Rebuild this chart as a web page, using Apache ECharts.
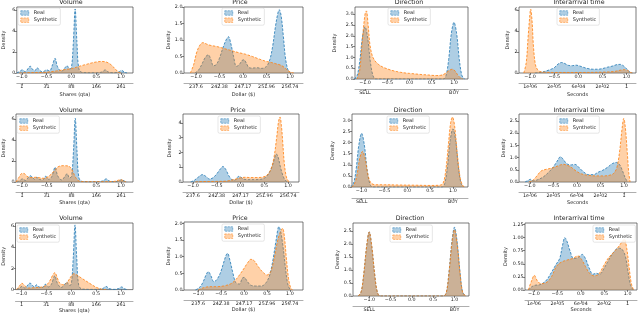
<!DOCTYPE html>
<html><head><meta charset="utf-8">
<script src="https://cdn.jsdelivr.net/npm/echarts@6/dist/echarts.min.js"></script>
<style>html,body{margin:0;padding:0;background:#fff}#c{width:640px;height:314px}</style>
</head><body><div id="c"></div>
<script>
// ---- tick labels of the secondary axes ----
const volumeTicks = ['1','31','88','166','261'];
const priceTicks = ['237.6','242.38','247.17','251.96','256.74'];
const directionTicks = ['SELL','','','','BUY'];
const timeTicks = ['1e-06','2e-05','6e-04','2e-02','1'];

// ---- row 1 ----
const volReal1 = [[-1.1,0],[-1.04,0.15],[-0.99,0.3],[-0.93,0.12],[-0.87,0.45],[-0.83,0.65],[-0.79,0.4],[-0.74,0.2],[-0.69,0.5],[-0.64,0.25],[-0.58,0.1],[-0.5,0.3],[-0.44,0.2],[-0.38,0.8],[-0.33,1.4],[-0.28,0.6],[-0.2,0.15],[-0.13,0.5],[-0.09,0.7],[-0.04,0.4],[0.0,0.5],[0.04,3.0],[0.075,6.1],[0.11,3.0],[0.15,0.4],[0.22,0.05],[0.5,0.02],[0.62,0.1],[0.68,0.3],[0.74,0.1],[0.85,0.02],[0.95,0.1],[1.01,0.25],[1.07,0.08],[1.12,0]];
const volSynth1 = [[-1.05,0],[-0.9,0.03],[-0.6,0.05],[-0.45,0.1],[-0.3,0.2],[-0.1,0.35],[0.0,0.42],[0.1,0.55],[0.2,0.7],[0.3,0.82],[0.4,0.95],[0.5,1.05],[0.6,1.1],[0.7,1.05],[0.78,0.85],[0.85,0.55],[0.9,0.3],[0.95,0.08],[1.0,0]];
const priceReal1 = [[-1.02,0],[-0.95,0.08],[-0.88,0.25],[-0.8,0.48],[-0.74,0.55],[-0.68,0.4],[-0.63,0.22],[-0.57,0.25],[-0.5,0.45],[-0.43,0.75],[-0.36,1.0],[-0.31,1.1],[-0.26,0.9],[-0.2,0.5],[-0.14,0.2],[-0.08,0.25],[-0.02,0.38],[0.02,0.4],[0.07,0.3],[0.13,0.16],[0.2,0.15],[0.3,0.16],[0.4,0.14],[0.5,0.2],[0.57,0.4],[0.63,0.8],[0.69,1.4],[0.74,1.8],[0.77,1.92],[0.81,1.75],[0.86,1.1],[0.9,0.5],[0.95,0.12],[1.0,0]];
const priceSynth1 = [[-1.12,0],[-1.05,0.25],[-0.98,0.65],[-0.9,0.88],[-0.85,0.92],[-0.78,0.88],[-0.7,0.84],[-0.55,0.8],[-0.4,0.74],[-0.25,0.68],[-0.1,0.62],[0.05,0.57],[0.2,0.5],[0.35,0.42],[0.5,0.35],[0.6,0.32],[0.7,0.28],[0.8,0.24],[0.88,0.17],[0.95,0.08],[1.02,0.02],[1.08,0]];
const dirReal1 = [[-1.25,0],[-1.18,0.15],[-1.12,0.8],[-1.06,1.9],[-1.0,2.42],[-0.94,1.9],[-0.88,0.8],[-0.82,0.15],[-0.76,0],[0.0,0],[0.76,0],[0.82,0.15],[0.88,0.9],[0.94,2.1],[1.0,2.62],[1.06,2.1],[1.12,0.9],[1.18,0.15],[1.24,0]];
const dirSynth1 = [[-1.18,0],[-1.12,0.4],[-1.06,1.8],[-1.0,3.0],[-0.97,3.15],[-0.93,2.5],[-0.89,1.6],[-0.84,1.1],[-0.78,0.85],[-0.7,0.68],[-0.6,0.55],[-0.5,0.47],[-0.4,0.4],[-0.3,0.35],[-0.2,0.31],[-0.1,0.28],[0.0,0.26],[0.1,0.24],[0.2,0.22],[0.3,0.2],[0.4,0.19],[0.5,0.17],[0.6,0.16],[0.7,0.17],[0.8,0.25],[0.88,0.38],[0.96,0.45],[1.02,0.38],[1.08,0.2],[1.14,0.06],[1.2,0]];
const timeReal1 = [[-0.9,0],[-0.8,0.05],[-0.7,0.15],[-0.6,0.3],[-0.5,0.5],[-0.42,0.85],[-0.35,1.0],[-0.28,0.9],[-0.2,0.72],[-0.12,0.7],[-0.05,0.75],[0.02,0.68],[0.1,0.55],[0.2,0.42],[0.3,0.36],[0.4,0.36],[0.5,0.42],[0.6,0.55],[0.7,0.65],[0.8,0.8],[0.87,0.82],[0.93,0.7],[0.99,0.45],[1.04,0.2],[1.08,0.05],[1.12,0]];
const timeSynth1 = [[-1.13,0],[-1.08,1.0],[-1.04,3.5],[-1.0,5.8],[-0.99,6.1],[-0.96,5.0],[-0.93,2.5],[-0.89,0.8],[-0.85,0.35],[-0.8,0.15],[-0.7,0.08],[-0.5,0.05],[0.0,0.05],[0.5,0.08],[0.75,0.15],[0.88,0.28],[0.95,0.32],[1.02,0.25],[1.08,0.06],[1.12,0]];

// ---- row 2 ----
const volReal2 = [[-1.1,0],[-1.04,0.15],[-0.99,0.3],[-0.93,0.15],[-0.87,0.45],[-0.83,0.6],[-0.78,0.4],[-0.74,0.25],[-0.7,0.45],[-0.65,0.25],[-0.58,0.2],[-0.52,0.55],[-0.46,0.25],[-0.4,0.5],[-0.33,1.4],[-0.28,0.6],[-0.2,0.2],[-0.13,0.55],[-0.09,0.8],[-0.04,0.4],[0.0,0.5],[0.04,3.0],[0.075,6.1],[0.11,3.0],[0.15,0.4],[0.22,0.05],[0.5,0.02],[0.63,0.1],[0.7,0.3],[0.76,0.1],[0.86,0.02],[0.95,0.1],[1.01,0.22],[1.07,0.08],[1.12,0]];
const volSynth2 = [[-1.12,0],[-1.06,0.45],[-1.0,0.82],[-0.96,0.82],[-0.9,0.55],[-0.82,0.42],[-0.72,0.45],[-0.62,0.38],[-0.55,0.35],[-0.46,0.55],[-0.38,0.9],[-0.3,1.35],[-0.24,1.52],[-0.15,1.56],[-0.06,1.52],[0.0,1.25],[0.05,0.75],[0.1,0.3],[0.16,0.08],[0.25,0.03],[0.6,0.03],[0.85,0.05],[0.93,0.15],[0.99,0.22],[1.05,0.12],[1.1,0]];
const priceReal2 = [[-1.05,0],[-0.97,0.12],[-0.88,0.35],[-0.8,0.5],[-0.73,0.38],[-0.65,0.2],[-0.58,0.28],[-0.5,0.55],[-0.42,0.9],[-0.37,1.05],[-0.31,0.85],[-0.25,0.45],[-0.19,0.18],[-0.12,0.12],[-0.04,0.38],[0.0,0.35],[0.06,0.2],[0.15,0.16],[0.3,0.16],[0.42,0.18],[0.52,0.3],[0.6,0.6],[0.67,1.1],[0.72,1.65],[0.75,1.9],[0.79,1.7],[0.84,1.0],[0.89,0.45],[0.94,0.12],[1.0,0]];
const priceSynth2 = [[-0.95,0],[-0.8,0.03],[-0.5,0.04],[-0.3,0.06],[-0.2,0.12],[-0.1,0.2],[0.0,0.28],[0.1,0.32],[0.2,0.3],[0.3,0.3],[0.45,0.32],[0.55,0.45],[0.63,0.8],[0.7,1.6],[0.76,3.0],[0.8,4.1],[0.83,4.4],[0.86,3.8],[0.89,2.6],[0.92,1.3],[0.96,0.4],[1.0,0.08],[1.04,0]];
const dirReal2 = [[-1.25,0],[-1.18,0.15],[-1.12,0.8],[-1.06,1.9],[-1.0,2.42],[-0.94,1.9],[-0.88,0.8],[-0.82,0.15],[-0.76,0],[0.0,0],[0.76,0],[0.82,0.15],[0.88,0.9],[0.94,2.1],[1.0,2.62],[1.06,2.1],[1.12,0.9],[1.18,0.15],[1.24,0]];
const dirSynth2 = [[-1.22,0],[-1.16,0.12],[-1.1,0.55],[-1.04,1.3],[-0.98,1.6],[-0.92,1.25],[-0.86,0.55],[-0.8,0.2],[-0.7,0.1],[-0.5,0.1],[-0.2,0.09],[0.2,0.08],[0.5,0.07],[0.7,0.08],[0.78,0.15],[0.84,0.7],[0.9,1.9],[0.95,2.9],[0.99,3.15],[1.04,2.7],[1.1,1.4],[1.16,0.4],[1.22,0.05],[1.27,0]];
const timeReal2 = [[-1.1,0],[-1.04,0.06],[-0.99,0.11],[-0.93,0.05],[-0.85,0.08],[-0.72,0.2],[-0.6,0.4],[-0.5,0.62],[-0.42,0.85],[-0.35,1.03],[-0.28,0.9],[-0.22,0.75],[-0.12,0.7],[-0.04,0.72],[0.05,0.58],[0.15,0.4],[0.25,0.3],[0.35,0.3],[0.45,0.4],[0.55,0.48],[0.65,0.6],[0.75,0.75],[0.84,0.8],[0.91,0.7],[0.97,0.45],[1.03,0.15],[1.08,0]];
const timeSynth2 = [[-1.02,0],[-0.93,0.08],[-0.85,0.25],[-0.76,0.45],[-0.65,0.52],[-0.55,0.56],[-0.45,0.62],[-0.35,0.7],[-0.28,0.72],[-0.2,0.68],[-0.12,0.6],[-0.02,0.45],[0.1,0.33],[0.25,0.27],[0.4,0.25],[0.55,0.25],[0.68,0.27],[0.78,0.35],[0.85,0.6],[0.91,1.3],[0.96,2.2],[0.995,2.6],[1.03,2.2],[1.07,1.2],[1.1,0.4],[1.13,0]];

// ---- row 3 ----
const volReal3 = [[-1.1,0],[-1.04,0.15],[-0.99,0.3],[-0.93,0.15],[-0.87,0.45],[-0.83,0.62],[-0.78,0.4],[-0.74,0.25],[-0.7,0.45],[-0.65,0.25],[-0.58,0.2],[-0.52,0.5],[-0.46,0.25],[-0.4,0.5],[-0.33,1.3],[-0.28,0.6],[-0.2,0.2],[-0.13,0.5],[-0.09,0.7],[-0.04,0.4],[0.0,0.5],[0.04,3.0],[0.075,6.1],[0.11,3.0],[0.15,0.4],[0.22,0.05],[0.5,0.02],[0.63,0.1],[0.7,0.3],[0.76,0.1],[0.86,0.02],[0.95,0.1],[1.01,0.25],[1.07,0.08],[1.12,0]];
const volSynth3 = [[-1.1,0],[-1.04,0.35],[-0.99,0.6],[-0.93,0.35],[-0.86,0.15],[-0.75,0.18],[-0.62,0.22],[-0.52,0.35],[-0.44,0.75],[-0.38,1.3],[-0.33,1.6],[-0.28,1.1],[-0.23,0.6],[-0.15,0.45],[-0.08,0.7],[-0.01,1.2],[0.05,1.5],[0.12,1.35],[0.2,1.1],[0.3,0.8],[0.4,0.5],[0.5,0.22],[0.6,0.05],[0.7,0]];
const priceReal3 = [[-1.06,0],[-0.97,0.08],[-0.9,0.22],[-0.83,0.45],[-0.78,0.55],[-0.72,0.42],[-0.66,0.25],[-0.6,0.3],[-0.52,0.5],[-0.45,0.8],[-0.39,1.05],[-0.36,1.1],[-0.31,0.9],[-0.25,0.55],[-0.18,0.22],[-0.1,0.18],[-0.04,0.35],[0.0,0.38],[0.06,0.28],[0.14,0.15],[0.25,0.12],[0.38,0.12],[0.48,0.22],[0.56,0.45],[0.63,0.9],[0.7,1.5],[0.76,1.9],[0.8,1.75],[0.85,1.3],[0.9,0.7],[0.95,0.2],[1.0,0.02],[1.03,0]];
const priceSynth3 = [[-1.0,0],[-0.9,0.06],[-0.75,0.1],[-0.6,0.1],[-0.45,0.12],[-0.3,0.18],[-0.2,0.28],[-0.1,0.45],[0.0,0.65],[0.08,0.82],[0.15,0.92],[0.22,0.88],[0.3,0.72],[0.4,0.55],[0.5,0.45],[0.58,0.55],[0.65,0.9],[0.72,1.4],[0.78,1.7],[0.84,1.85],[0.88,1.6],[0.92,1.0],[0.97,0.35],[1.02,0.05],[1.06,0]];
const dirReal3 = [[-1.26,0],[-1.19,0.15],[-1.13,0.8],[-1.06,1.9],[-1.0,2.46],[-0.94,1.9],[-0.87,0.8],[-0.81,0.15],[-0.74,0],[0.0,0],[0.74,0],[0.81,0.15],[0.87,0.9],[0.94,2.1],[1.0,2.64],[1.06,2.1],[1.13,0.9],[1.19,0.15],[1.26,0]];
const dirSynth3 = [[-1.26,0],[-1.19,0.16],[-1.13,0.82],[-1.06,1.92],[-1.0,2.46],[-0.94,1.92],[-0.87,0.82],[-0.81,0.16],[-0.74,0],[0.0,0],[0.74,0],[0.81,0.15],[0.87,0.88],[0.94,2.02],[1.0,2.54],[1.06,2.02],[1.13,0.88],[1.19,0.15],[1.26,0]];
const timeReal3 = [[-1.12,0],[-1.05,0.06],[-0.98,0.09],[-0.88,0.1],[-0.75,0.17],[-0.63,0.33],[-0.52,0.5],[-0.45,0.6],[-0.39,0.85],[-0.34,1.0],[-0.29,0.92],[-0.23,0.75],[-0.15,0.6],[-0.06,0.62],[0.03,0.68],[0.1,0.6],[0.18,0.42],[0.26,0.3],[0.33,0.32],[0.4,0.3],[0.5,0.42],[0.6,0.58],[0.7,0.72],[0.8,0.8],[0.88,0.78],[0.95,0.65],[1.0,0.4],[1.06,0.1],[1.12,0]];
const timeSynth3 = [[-1.12,0],[-1.06,0.15],[-0.99,0.28],[-0.93,0.18],[-0.85,0.12],[-0.72,0.15],[-0.62,0.26],[-0.52,0.45],[-0.42,0.53],[-0.3,0.57],[-0.18,0.6],[-0.06,0.65],[0.02,0.58],[0.1,0.45],[0.18,0.33],[0.28,0.27],[0.38,0.3],[0.48,0.45],[0.58,0.6],[0.7,0.72],[0.8,0.82],[0.88,0.92],[0.93,0.97],[0.98,0.8],[1.03,0.45],[1.08,0.12],[1.13,0]];

// ---- panel layout (pixels) ----
const panels = [
 {title:'Volume', tx:71, ty:3, g:[16,7,133,73], xr:[-1.1,1.24], ymax:6.29, yt:[0,2,4,6], yd:0, sec:volumeTicks, secName:'Shares (qta)', off:10.5, sng:8.3, leg:[18,8], dg:10.8, real:volReal1, syn:volSynth1},
 {title:'Price', tx:240, ty:3, g:[184,7,303,73], xr:[-1.255,1.277], ymax:2.0, yt:[0,0.5,1,1.5,2], yd:1, sec:priceTicks, secName:'Dollar ($)', off:10.5, sng:8.3, leg:[222,8], dg:11.5, real:priceReal1, syn:priceSynth1},
 {title:'Direction', tx:409, ty:3, g:[355,7,468,79], xr:[-1.225,1.315], ymax:3.33, yt:[0,0.5,1,1.5,2,2.5,3], yd:1, sec:directionTicks, secName:'', off:10, sng:8, leg:[388,8], dg:17.5, real:dirReal1, syn:dirSynth1},
 {title:'Interarrival time', tx:579, ty:3, g:[519,7,636,73], xr:[-1.23,1.195], ymax:6.29, yt:[0,2,4,6], yd:0, sec:timeTicks, secName:'Seconds', off:10.5, sng:8.3, leg:[557,8], dg:7.5, real:timeReal1, syn:timeSynth1},
 {title:'Volume', tx:71, ty:111, g:[15,114,133,182], xr:[-1.12,1.24], ymax:6.5, yt:[0,2,4,6], yd:0, sec:volumeTicks, secName:'Shares (qta)', off:10.3, sng:7.8, leg:[17,116], dg:10, real:volReal2, syn:volSynth2},
 {title:'Price', tx:238, ty:111, g:[183,114,299,182], xr:[-1.21,1.23], ymax:4.6, yt:[0,1,2,3,4], yd:0, sec:priceTicks, secName:'Dollar ($)', off:10.3, sng:7.8, leg:[218,116], dg:10.5, real:priceReal2, syn:priceSynth2},
 {title:'Direction', tx:408, ty:111, g:[352,114,468,187], xr:[-1.21,1.33], ymax:3.29, yt:[0,0.5,1,1.5,2,2.5,3], yd:1, sec:directionTicks, secName:'', off:11.5, sng:8, leg:[387,116], dg:16.5, real:dirReal2, syn:dirSynth2},
 {title:'Interarrival time', tx:579, ty:111, g:[519,114,636,182], xr:[-1.23,1.255], ymax:2.78, yt:[0,0.5,1,1.5,2,2.5], yd:1, sec:timeTicks, secName:'Seconds', off:10.3, sng:7.8, leg:[557,116], dg:8.5, real:timeReal2, syn:timeSynth2},
 {title:'Volume', tx:71, ty:219, g:[15,223,133,290], xr:[-1.12,1.24], ymax:6.28, yt:[0,2,4,6], yd:0, sec:volumeTicks, secName:'Shares (qta)', off:11.7, sng:6.5, leg:[17,225], dg:9.5, real:volReal3, syn:volSynth3},
 {title:'Price', tx:240, ty:219, g:[184,222,303,290], xr:[-1.31,1.286], ymax:2.04, yt:[0,0.5,1,1.5,2], yd:1, sec:priceTicks, secName:'Dollar ($)', off:10.7, sng:6.5, leg:[222,224], dg:9.5, real:priceReal3, syn:priceSynth3},
 {title:'Direction', tx:410, ty:219, g:[353,223,469,296], xr:[-1.38,1.34], ymax:2.8, yt:[0,0.5,1,1.5,2,2.5], yd:1, sec:directionTicks, secName:'', off:10, sng:8, leg:[390,225], dg:9.5, real:dirReal3, syn:dirSynth3},
 {title:'Interarrival time', tx:579, ty:219, g:[525,223,637,290], xr:[-1.19,1.2], ymax:1.28, yt:[0,0.25,0.5,0.75,1,1.25], yd:2, sec:timeTicks, secName:'Seconds', off:10.7, sng:6.5, leg:[593,225], dg:16.5, real:timeReal3, syn:timeSynth3}
];

const F = 'DejaVu Sans';
const BLUE = '#1f77b4', BLUE_FILL = 'rgba(31,119,180,0.36)';
const ORANGE = '#ff7f0e', ORANGE_FILL = 'rgba(255,127,14,0.36)';
const tickVals = [-1,-0.5,0,0.5,1];
const fmt = (v,d) => (v < -1e-9 ? '\u2212' : '') + Math.abs(v).toFixed(d);
const tickLine = {color:'#333', width:0.6};

const option = {animation:false, backgroundColor:'#fff', title:[], grid:[], xAxis:[], yAxis:[], legend:[], series:[]};

panels.forEach((p, i) => {
  const [l, t, r, b] = p.g;
  option.grid.push({left:l, top:t, width:r-l, height:b-t, show:true, borderColor:'#444', borderWidth:0.7, backgroundColor:'#fff'});
  option.title.push({text:p.title, left:p.tx, top:p.ty-3.8, textAlign:'center', padding:0,
    textStyle:{fontFamily:F, fontSize:6.3, fontWeight:'normal', color:'#222'}});
  option.xAxis.push({type:'value', gridIndex:i, min:p.xr[0], max:p.xr[1], position:'bottom',
    axisLine:{show:false, onZero:false}, splitLine:{show:false},
    axisTick:{show:true, length:2, lineStyle:tickLine, customValues:tickVals},
    axisLabel:{fontFamily:F, fontSize:4.8, color:'#222', margin:1.5, customValues:tickVals, formatter:v => fmt(v,1)}});
  const secVals = p.sec === directionTicks ? [-1, 1] : tickVals;
  const sec = p.sec;
  option.xAxis.push({type:'value', gridIndex:i, min:p.xr[0], max:p.xr[1], position:'bottom', offset:p.off,
    axisLine:{show:true, onZero:false, lineStyle:{color:'#777', width:0.6}}, splitLine:{show:false},
    axisTick:{show:true, length:2, lineStyle:tickLine, customValues:secVals},
    axisLabel:{fontFamily:F, fontSize:4.8, color:'#222', margin:0.8, customValues:secVals,
      formatter:v => sec[Math.round((v+1)*2)]},
    name:p.secName, nameLocation:'middle', nameGap:p.sng,
    nameTextStyle:{fontFamily:F, fontSize:5, color:'#222'}});
  option.yAxis.push({type:'value', gridIndex:i, min:0, max:p.ymax, position:'left',
    axisLine:{show:false, onZero:false}, splitLine:{show:false},
    axisTick:{show:true, length:2, lineStyle:tickLine, customValues:p.yt},
    axisLabel:{fontFamily:F, fontSize:4.8, color:'#222', margin:1.5, customValues:p.yt, formatter:v => v.toFixed(p.yd)},
    name:'Density', nameLocation:'middle', nameGap:p.dg,
    nameTextStyle:{fontFamily:F, fontSize:5, color:'#222'}});
  option.legend.push({left:p.leg[0], top:p.leg[1], orient:'vertical', itemWidth:8, itemHeight:4.5, itemGap:2.2,
    padding:[2.5,3,2.5,2.5], backgroundColor:'rgba(255,255,255,0.85)', borderColor:'#ccc', borderWidth:0.5, borderRadius:1.5,
    selectedMode:false, textStyle:{fontFamily:F, fontSize:5, color:'#222'},
    data:[
      {name:'Real', icon:'rect', itemStyle:{color:BLUE_FILL, borderColor:BLUE, borderWidth:0.5, borderType:'dashed'}},
      {name:'Synthetic', icon:'rect', itemStyle:{color:ORANGE_FILL, borderColor:ORANGE, borderWidth:0.5, borderType:'dashed'}}
    ]});
  const mk = (name, data, c, f, z) => ({type:'line', name, xAxisIndex:2*i, yAxisIndex:i, data, smooth:0.35,
    symbol:'none', silent:true, clip:true, z,
    lineStyle:{color:c, width:0.8, type:[2.5,1.5]}, itemStyle:{color:c}, areaStyle:{color:f, opacity:1}});
  option.series.push(mk('Real', p.real, BLUE, BLUE_FILL, 2));
  option.series.push(mk('Synthetic', p.syn, ORANGE, ORANGE_FILL, 3));
});

const chart = echarts.init(document.getElementById('c'), null, {renderer:'canvas'});
chart.setOption(option);
</script>
</body></html>
